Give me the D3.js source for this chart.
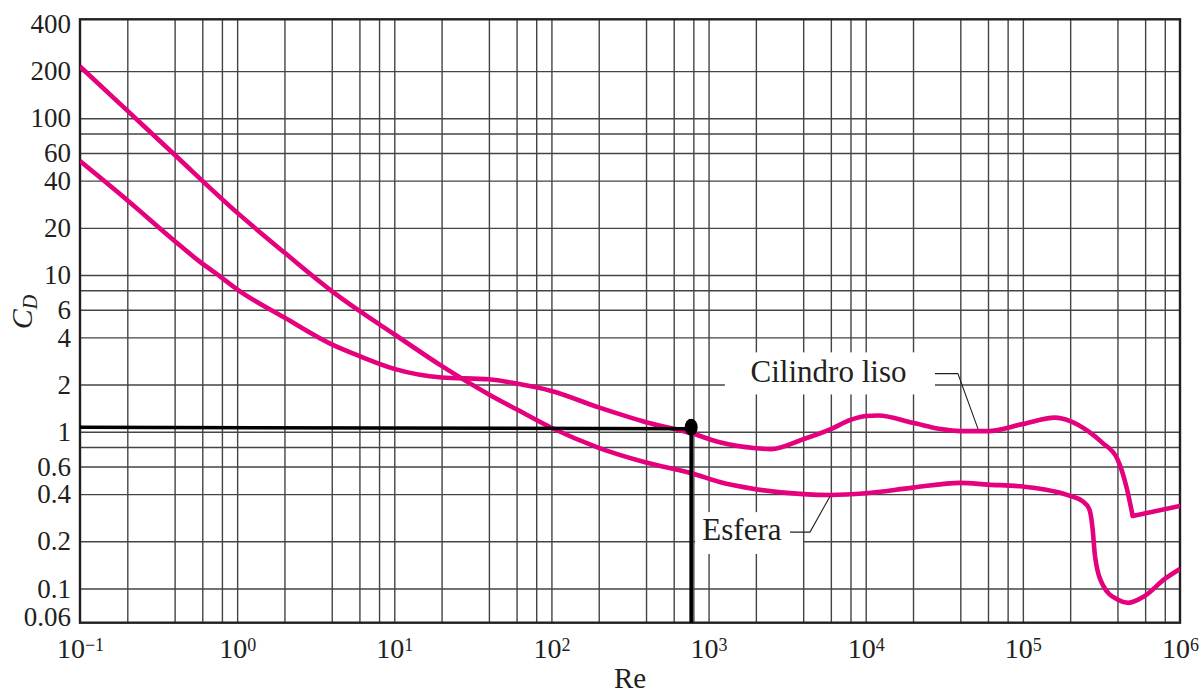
<!DOCTYPE html>
<html>
<head>
<meta charset="utf-8">
<script src="https://cdn.jsdelivr.net/npm/d3@7"></script>
<style>
  body { margin: 0; background: #fff; }
  text { font-family: "Liberation Serif", "Times New Roman", serif; fill: #231f20; }
</style>
</head>
<body>
<script>
// tick labels and grid
var xExponents = [-1, 0, 1, 2, 3, 4, 5, 6];
var xGridMult = [1, 2, 4, 6, 8];
var yTickLabels = [0.06, 0.1, 0.2, 0.4, 0.6, 1, 2, 4, 6, 10, 20, 40, 60, 100, 200, 400];
var yGrid = [0.1, 0.2, 0.4, 0.6, 0.8, 1, 2, 4, 6, 8, 10, 20, 40, 60, 80, 100, 200];

// sphere (Re, Cd)
var sphereRe = [0.1, 0.2, 0.4, 1, 2, 4, 6, 10, 20, 40, 60, 100, 200, 400, 800, 1160, 2000, 4000, 6000,
    1e4, 2e4, 4e4, 6e4, 1e5, 2e5, 2.4e5, 2.65e5, 2.78e5, 2.88e5, 3.25e5, 4e5, 4.7e5, 5.9e5, 8e5, 1e6];
var sphereCd = [214, 112, 58.5, 25, 13.9, 7.9, 5.9, 4.19, 2.63, 1.73, 1.39, 1.06, 0.79, 0.637, 0.54, 0.48, 0.43, 0.4, 0.395,
    0.405, 0.44, 0.472, 0.46, 0.447, 0.39, 0.36, 0.32, 0.24, 0.16, 0.104, 0.085, 0.081, 0.089, 0.115, 0.133];

// smooth cylinder
var cylRe = [0.1, 0.2, 0.4, 0.57, 0.8, 1, 2, 4, 6, 10, 20, 40, 60, 100, 200, 400, 800, 1160, 2000, 2500, 4000, 6000, 8000,
    1e4, 1.2e4, 2e4, 3e4, 4e4, 6e4, 1e5, 1.6e5, 2e5, 2.6e5, 3.2e5, 4e5, 4.6e5, 5e5, 1e6];
var cylCd = [53.3, 30, 16.5, 12.3, 9.6, 8.1, 5.35, 3.61, 3.04, 2.52, 2.22, 2.16, 2.03, 1.82, 1.43, 1.15, 0.97, 0.86, 0.785, 0.775, 0.896, 1.04, 1.19,
    1.26, 1.27, 1.14, 1.04, 1.01, 1.01, 1.12, 1.23, 1.17, 1.01, 0.853, 0.668, 0.43, 0.29, 0.336];

// reading line (Re ~ 775)
var refRe = [0.1, 775, 775];
var refCd = [1.068, 1.045, 0.0605];

// labels with their leader lines
var cylLabel = {text: "Cilindro liso", re: 5.8e3, cd: 2.07, box: [1.27e3, 2.76e4, 3.21, 1.73]};
var cylLeaderRe = [2.76e4, 3.86e4, 5.19e4];
var cylLeaderCd = [2.35, 2.35, 1.04];
var sphLabel = {text: "Esfera", re: 1.63e3, cd: 0.203, box: [820, 3.99e3, 0.307, 0.166]};
var sphLeaderRe = [3.3e3, 4.42e3, 5.93e3];
var sphLeaderCd = [0.229, 0.229, 0.388];

var W = 1201, H = 693;
var margin = {top: 19.3, right: 21, bottom: 70.3, left: 80},
    width = W - margin.left - margin.right,
    height = H - margin.top - margin.bottom;

var svg = d3.select("body")
    .append("svg")
    .attr("width", W)
    .attr("height", H);

var x = d3.scaleLog().domain([0.1, 1e6]).range([margin.left, margin.left + width]);
var y = d3.scaleLog().domain([0.0605, 428]).range([margin.top + height, margin.top]);

svg.append("clipPath").attr("id", "plot")
    .append("rect")
    .attr("x", margin.left).attr("y", margin.top)
    .attr("width", width).attr("height", height);

// grid
var xGrid = [];
xExponents.forEach(function(e) {
    xGridMult.forEach(function(m) {
        var v = m * Math.pow(10, e);
        if (v > 0.1 && v < 1e6) xGrid.push(v);
    });
});

var gx = svg.append("g")
    .attr("transform", "translate(0," + (margin.top + height) + ")")
    .call(d3.axisBottom(x).tickValues(xGrid).tickSize(-height).tickFormat(""));
var gy = svg.append("g")
    .attr("transform", "translate(" + margin.left + ",0)")
    .call(d3.axisLeft(y).tickValues(yGrid).tickSize(-width).tickFormat(""));
[gx, gy].forEach(function(g) {
    g.select(".domain").remove();
    g.selectAll(".tick line").attr("stroke", "#444").attr("stroke-width", 1.4);
});

// white boxes behind labels
[cylLabel, sphLabel].forEach(function(l) {
    svg.append("rect")
        .attr("x", x(l.box[0]))
        .attr("y", y(l.box[2]))
        .attr("width", x(l.box[1]) - x(l.box[0]))
        .attr("height", y(l.box[3]) - y(l.box[2]))
        .attr("fill", "#fff");
});

// frame
svg.append("rect")
    .attr("x", margin.left).attr("y", margin.top)
    .attr("width", width).attr("height", height)
    .attr("fill", "none")
    .attr("stroke", "#231f20")
    .attr("stroke-width", 2.4);

// curves
var line = d3.line()
    .x(function(d) { return x(d[0]); })
    .y(function(d) { return y(d[1]); })
    .curve(d3.curveMonotoneX);
var straight = d3.line()
    .x(function(d) { return x(d[0]); })
    .y(function(d) { return y(d[1]); });

var sphere = d3.zip(sphereRe, sphereCd);
var cyl = d3.zip(cylRe, cylCd);
var pink = "#e5007e";

var curves = svg.append("g").attr("clip-path", "url(#plot)");
curves.append("path")
    .datum(sphere)
    .attr("fill", "none")
    .attr("stroke", pink)
    .attr("stroke-width", 4.6)
    .attr("d", line);
curves.append("path")
    .datum(cyl.slice(0, cyl.length - 1))
    .attr("fill", "none")
    .attr("stroke", pink)
    .attr("stroke-width", 4.6)
    .attr("d", line);
curves.append("path")
    .datum(cyl.slice(cyl.length - 2))
    .attr("fill", "none")
    .attr("stroke", pink)
    .attr("stroke-width", 4.6)
    .attr("stroke-linecap", "round")
    .attr("d", straight);

// reading line and dot
var ref = d3.zip(refRe, refCd);
svg.append("path")
    .datum(ref)
    .attr("fill", "none")
    .attr("stroke", "#000")
    .attr("stroke-width", 3.6)
    .attr("d", straight);
svg.append("ellipse")
    .attr("cx", x(refRe[1]))
    .attr("cy", y(refCd[0]))
    .attr("rx", 6.5)
    .attr("ry", 8.5)
    .attr("fill", "#000");

// leaders
[d3.zip(cylLeaderRe, cylLeaderCd), d3.zip(sphLeaderRe, sphLeaderCd)].forEach(function(pts) {
    svg.append("path")
        .datum(pts)
        .attr("fill", "none")
        .attr("stroke", "#231f20")
        .attr("stroke-width", 1.1)
        .attr("d", straight);
});

[cylLabel, sphLabel].forEach(function(l) {
    svg.append("text")
        .attr("x", x(l.re))
        .attr("y", y(l.cd))
        .attr("text-anchor", "middle")
        .style("font-size", "31px")
        .text(l.text);
});

// Y axis labels
var ya = svg.append("g")
    .attr("transform", "translate(" + margin.left + ",0)")
    .call(d3.axisLeft(y).tickValues(yTickLabels).tickSize(0).tickPadding(9)
        .tickFormat(function(d) { return d; }));
ya.select(".domain").remove();
ya.selectAll(".tick text")
    .attr("fill", "#231f20")
    .style("font-size", "27px")
    .attr("y", function(d) { return d === 0.06 ? -6 : 0; });

// X axis labels 10^n
var xa = svg.append("g")
    .attr("transform", "translate(0," + (margin.top + height) + ")")
    .call(d3.axisBottom(x).tickValues(xExponents.map(function(e) { return Math.pow(10, e); }))
        .tickSize(0).tickPadding(15).tickFormat(""));
xa.select(".domain").remove();
xa.selectAll(".tick text")
    .attr("fill", "#231f20")
    .style("font-size", "28px")
    .each(function(d, i) {
        var t = d3.select(this);
        t.append("tspan").text("10");
        t.append("tspan")
            .attr("dy", "-0.36em")
            .style("font-size", "18px")
            .text(String(xExponents[i]).replace("-", "\u2212"));
    });

// axis titles
svg.append("text")
    .attr("x", margin.left + width / 2)
    .attr("y", 688)
    .attr("text-anchor", "middle")
    .style("font-size", "29px")
    .text("Re");

var yt = svg.append("text")
    .attr("transform", "translate(32,312) rotate(-90)")
    .attr("text-anchor", "middle")
    .style("font-size", "30px")
    .style("font-style", "italic");
yt.append("tspan").text("C");
yt.append("tspan").attr("dy", "0.25em").style("font-size", "20px").text("D");
</script>
</body>
</html>
